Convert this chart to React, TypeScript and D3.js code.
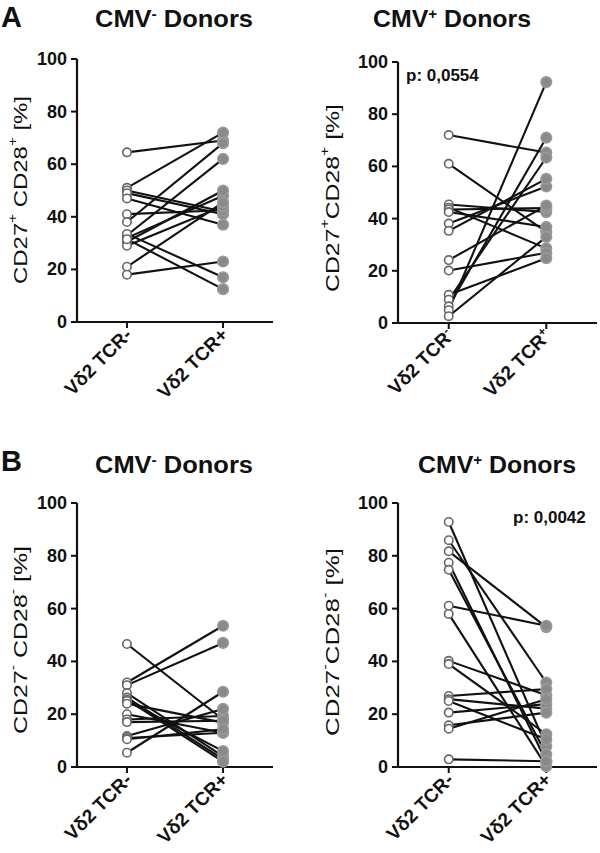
import React from 'react';
import * as d3 from 'd3';

const categories = ['TCR-', 'TCR+'];
const yTicks = [0, 20, 40, 60, 80, 100];

// Panel A, CMV- donors: CD27+CD28+ [%]
const aNegBefore = [64.5, 51, 50, 49, 47, 41, 38, 33, 32, 30.5, 29, 33.5, 31.5, 21, 18];
const aNegAfter = [69, 72, 42, 41, 37, 42.5, 68, 62, 48, 50, 44, 17, 12.5, 45.5, 23];

// Panel A, CMV+ donors
const aPosBefore = [72, 61, 45.4, 44.2, 43.5, 42.5, 38.1, 35.3, 24.1, 20.1, 10.8, 8.9, 6.4, 4.9, 2.6];
const aPosAfter = [65.3, 34.9, 42.5, 28.6, 44, 36.8, 52.3, 55.2, 45, 26.9, 24.8, 63.4, 71, 92.3, 33];

// Panel B, CMV- donors: CD27-CD28- [%]
const bNegBefore = [46.6, 32, 31, 28, 26.3, 25.5, 25, 24, 20, 18, 17, 11.7, 11, 10.5, 5.4];
const bNegAfter = [18, 53.5, 47, 4, 3, 2, 6, 16.8, 13, 19.3, 17.5, 22, 13, 14.3, 28.5];

// Panel B, CMV+ donors
const bPosBefore = [92.8, 85.9, 81.7, 77.4, 74.7, 61.1, 58, 40.2, 39, 26.9, 25.7, 25, 20.6, 15.8, 14.5, 2.9];
const bPosAfter = [7.9, 32, 53, 2.2, 4.8, 53.5, 0.3, 27.2, 12.4, 29.5, 22.1, 10.5, 23.8, 20.6, 25.7, 2.2];

type Seg = { t: string; sup?: boolean };

const FONT = '"Liberation Sans", Arial, Helvetica, sans-serif';

function Rich({ segs, supSize, supShift }: { segs: Seg[]; supSize: number; supShift: number }) {
  const out: any[] = [];
  let shifted = false;
  segs.forEach((s, i) => {
    if (s.sup) {
      out.push(
        <tspan key={i} dy={-supShift} fontSize={supSize}>
          {s.t}
        </tspan>
      );
      shifted = true;
    } else {
      out.push(
        <tspan key={i} dy={shifted ? supShift : 0}>
          {s.t}
        </tspan>
      );
      shifted = false;
    }
  });
  return <>{out}</>;
}

type PanelProps = {
  axisX: number;
  endX: number;
  yTop: number;
  yZero: number;
  before: number[];
  after: number[];
  title: Seg[];
  titleX: number;
  titleY: number;
  ylabel: Seg[];
  ylabelX: number;
  ylabelY: number;
  xLabels: Seg[][];
  pText?: string;
  pX?: number;
  pY?: number;
};

function Panel(p: PanelProps) {
  const y = d3.scaleLinear().domain([0, 100]).range([p.yZero, p.yTop]);
  const x = d3.scalePoint<string>().domain(categories).range([p.axisX, p.endX]).padding(0.52);
  const x0 = x(categories[0])!;
  const x1 = x(categories[1])!;
  const line = d3.line<[number, number]>().x((d) => d[0]).y((d) => d[1]);
  return (
    <g fontFamily={FONT}>
      <text
        x={p.titleX - 79}
        y={p.titleY}
        fontWeight="bold"
        fontSize={23}
        fill="#111"
        textLength={158}
        lengthAdjust="spacingAndGlyphs"
      >
        <Rich segs={p.title} supSize={14} supShift={8} />
      </text>
      <text
        transform={`translate(${p.ylabelX},${p.ylabelY}) rotate(-90)`}
        x={-94}
        dominantBaseline="central"
        fontSize={19}
        fill="#111"
        textLength={188}
        lengthAdjust="spacingAndGlyphs"
      >
        <Rich segs={p.ylabel} supSize={12} supShift={7} />
      </text>
      {/* axes */}
      <path d={`M${p.axisX},${y(100)}V${p.yZero}H${p.endX}`} fill="none" stroke="#111" strokeWidth={2.2} />
      {yTicks.map((t) => (
        <g key={t}>
          <line x1={p.axisX - 6} x2={p.axisX} y1={y(t)} y2={y(t)} stroke="#111" strokeWidth={2} />
          <text
            x={p.axisX - 10}
            y={y(t)}
            textAnchor="end"
            dominantBaseline="central"
            fontWeight="bold"
            fontSize={18}
            fill="#111"
          >
            {t}
          </text>
        </g>
      ))}
      {categories.map((c, i) => (
        <g key={c}>
          <line x1={x(c)!} x2={x(c)!} y1={p.yZero} y2={p.yZero + 6} stroke="#111" strokeWidth={2} />
          <text
            transform={`translate(${x(c)! + 6},${p.yZero + 14}) rotate(-45)`}
            textAnchor="end"
            fontWeight="bold"
            fontSize={19}
            fill="#111"
          >
            <Rich segs={p.xLabels[i]} supSize={12} supShift={7} />
          </text>
        </g>
      ))}
      {/* pairs */}
      {p.before.map((b, i) => (
        <path
          key={'l' + i}
          d={line([
            [x0, y(b)],
            [x1, y(p.after[i])],
          ])!}
          stroke="#111"
          strokeWidth={2.1}
          fill="none"
        />
      ))}
      {p.after.map((a, i) => (
        <circle key={'a' + i} cx={x1} cy={y(a)} r={5.3} fill="#8a8a8a" stroke="#9a9a9a" strokeWidth={1.6} />
      ))}
      {p.before.map((b, i) => (
        <circle key={'b' + i} cx={x0} cy={y(b)} r={4.2} fill="#fff" stroke="#666" strokeWidth={1.6} />
      ))}
      {p.pText && (
        <text x={p.pX} y={p.pY} fontWeight="bold" fontSize={17} fill="#111">
          {p.pText}
        </text>
      )}
    </g>
  );
}

const negTitle: Seg[] = [{ t: 'CMV' }, { t: '-', sup: true }, { t: ' Donors' }];
const posTitle: Seg[] = [{ t: 'CMV' }, { t: '+', sup: true }, { t: ' Donors' }];

export default function App() {
  return (
    <svg
      width={600}
      height={853}
      viewBox="0 0 600 853"
      style={{ position: 'absolute', left: 0, top: 0, background: '#fff' }}
    >
      <rect width={600} height={853} fill="#fff" />
      <text x={1} y={27} fontFamily={FONT} fontWeight="bold" fontSize={29} fill="#111">
        A
      </text>
      <text x={1} y={471} fontFamily={FONT} fontWeight="bold" fontSize={29} fill="#111">
        B
      </text>
      <Panel
        axisX={77}
        endX={273}
        yTop={59}
        yZero={322}
        before={aNegBefore}
        after={aNegAfter}
        title={negTitle}
        titleX={174}
        titleY={27}
        ylabel={[{ t: 'CD27' }, { t: '+', sup: true }, { t: ' CD28' }, { t: '+', sup: true }, { t: ' [%]' }]}
        ylabelX={20}
        ylabelY={190}
        xLabels={[[{ t: 'Vδ2 TCR-' }], [{ t: 'Vδ2 TCR+' }]]}
      />
      <Panel
        axisX={398}
        endX={597}
        yTop={62}
        yZero={323}
        before={aPosBefore}
        after={aPosAfter}
        title={posTitle}
        titleX={452}
        titleY={27}
        ylabel={[{ t: 'CD27' }, { t: '+', sup: true }, { t: 'CD28' }, { t: '+', sup: true }, { t: ' [%]' }]}
        ylabelX={332}
        ylabelY={198}
        xLabels={[
          [{ t: 'Vδ2 TCR' }, { t: '-', sup: true }],
          [{ t: 'Vδ2 TCR' }, { t: '+', sup: true }],
        ]}
        pText="p: 0,0554"
        pX={406}
        pY={81}
      />
      <Panel
        axisX={77}
        endX={273}
        yTop={503}
        yZero={767}
        before={bNegBefore}
        after={bNegAfter}
        title={negTitle}
        titleX={174}
        titleY={473}
        ylabel={[{ t: 'CD27' }, { t: '-', sup: true }, { t: ' CD28' }, { t: '-', sup: true }, { t: ' [%]' }]}
        ylabelX={20}
        ylabelY={640}
        xLabels={[[{ t: 'Vδ2 TCR-' }], [{ t: 'Vδ2 TCR+' }]]}
      />
      <Panel
        axisX={398}
        endX={597}
        yTop={503}
        yZero={767}
        before={bPosBefore}
        after={bPosAfter}
        title={posTitle}
        titleX={497}
        titleY={473}
        ylabel={[{ t: 'CD27' }, { t: '-', sup: true }, { t: 'CD28' }, { t: '-', sup: true }, { t: ' [%]' }]}
        ylabelX={332}
        ylabelY={642}
        xLabels={[[{ t: 'Vδ2 TCR-' }], [{ t: 'Vδ2 TCR+' }]]}
        pText="p: 0,0042"
        pX={513}
        pY={523}
      />
    </svg>
  );
}
